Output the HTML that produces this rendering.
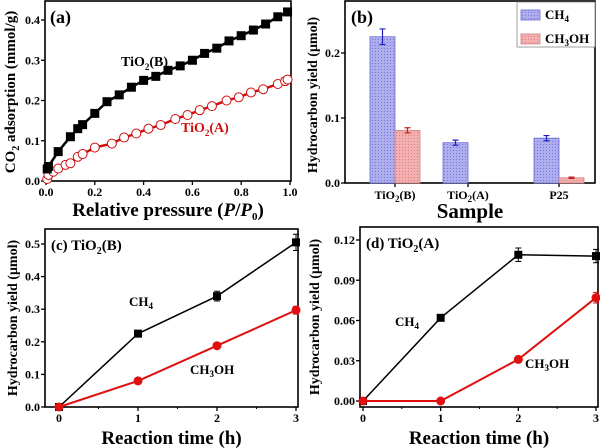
<!DOCTYPE html>
<html><head><meta charset="utf-8"><style>
html,body{margin:0;padding:0;background:#fff;}
svg{display:block;font-family:"Liberation Serif",serif;}
svg text{font-weight:bold;}
</style></head><body>
<svg id="fig" width="600" height="448" viewBox="0 0 600 448">
<defs>
<pattern id="hb" width="3" height="3" patternUnits="userSpaceOnUse"><rect width="3" height="3" fill="#aeaeee"/><rect width="1" height="1" fill="#7878d8"/></pattern>
<pattern id="hr" width="3" height="3" patternUnits="userSpaceOnUse"><rect width="3" height="3" fill="#f2b0b0"/><rect width="1" height="1" fill="#e07c7c"/></pattern>
</defs>
</svg>
<script>
// Panel (a)
const aPxB=[0.005,0.01,0.05,0.1,0.13,0.15,0.2,0.25,0.3,0.35,0.4,0.45,0.5,0.55,0.6,0.65,0.7,0.75,0.8,0.85,0.9,0.95,0.99];
const aYB=[0.03,0.036,0.073,0.11,0.13,0.14,0.168,0.197,0.214,0.233,0.25,0.26,0.275,0.286,0.30,0.317,0.33,0.348,0.361,0.375,0.39,0.408,0.42];
const aPxA=[0.005,0.01,0.03,0.05,0.08,0.1,0.13,0.15,0.2,0.27,0.32,0.37,0.42,0.47,0.53,0.58,0.63,0.68,0.74,0.79,0.84,0.89,0.95,0.98,0.99];
const aYA=[0.005,0.015,0.023,0.031,0.04,0.044,0.06,0.067,0.083,0.093,0.108,0.118,0.13,0.139,0.154,0.164,0.176,0.186,0.2,0.208,0.22,0.228,0.241,0.248,0.252];
const aXTicks=[0,0.2,0.4,0.6,0.8,1.0];
const aYTicks=[0,0.1,0.2,0.3,0.4];
// Panel (b)
const bCats=["TiO2(B)","TiO2(A)","P25"];
const bCH4=[0.225,0.062,0.069];
const bCH4err=[0.012,0.004,0.004];
const bMeOH=[0.081,0,0.008];
const bMeOHerr=[0.004,0,0.001];
const bYTicks=[0,0.1,0.2];
// Panel (c)
const cTime=[0,1,2,3];
const cCH4=[0,0.225,0.34,0.505];
const cCH4err=[0.005,0.01,0.015,0.025];
const cMeOH=[0,0.08,0.188,0.297];
const cMeOHerr=[0.003,0.005,0.006,0.012];
const cYTicks=[0,0.1,0.2,0.3,0.4,0.5];
// Panel (d)
const dTime=[0,1,2,3];
const dCH4=[0,0.062,0.109,0.108];
const dCH4err=[0.001,0.002,0.005,0.005];
const dMeOH=[0,0,0.031,0.077];
const dMeOHerr=[0.001,0.001,0.001,0.004];
const dYTicks=[0,0.03,0.06,0.09,0.12];

const svg=document.getElementById('fig');
const NS='http://www.w3.org/2000/svg';
function el(tag,attrs,parent){const e=document.createElementNS(NS,tag);for(const k in attrs)e.setAttribute(k,attrs[k]);(parent||svg).appendChild(e);return e;}
function txt(s,x,y,size,anchor,parent,fill){const t=el('text',{x:x,y:y,'font-size':size,'font-weight':'bold','text-anchor':anchor||'middle',fill:fill||'#000'},parent);t.innerHTML=s;return t;}
function lin(d0,d1,r0,r1){return v=>r0+(v-d0)/(d1-d0)*(r1-r0);}

function frame(g,L,T,R,B){el('rect',{x:L,y:T,width:R-L,height:B-T,fill:'none',stroke:'#000','stroke-width':1.6},g);}
function yAxis(g,ticks,sy,L,fmt){ticks.forEach(v=>{const y=sy(v);const t=el('line',{x1:L-4,y1:y,x2:L,y2:y,stroke:'#000','stroke-width':1.3},g);const l=txt(fmt(v),L-5,y+4,12,'end',g);});}
function xAxis(g,ticks,sx,B,fmt){ticks.forEach(v=>{const x=sx(v);const t=el('line',{x1:x,y1:B,x2:x,y2:B+4,stroke:'#000','stroke-width':1.3},g);const l=txt(fmt(v),x,B+15,12,'middle',g);});}

// ---- Panel a
(function(){
const g=el('g',{});
const L=45,T=1,R=291,B=181;
const sx=lin(0,1,46,290), sy=lin(0,0.4,181,20);
frame(g,L,T,R,B);
yAxis(g,aYTicks,sy,L,v=>v.toFixed(1));
xAxis(g,aXTicks,sx,B,v=>v.toFixed(1));
const pa=el('polyline',{points:aPxA.map((x,i)=>sx(x)+','+sy(aYA[i])).join(' '),fill:'none',stroke:'#d01010','stroke-width':2.5},g);

aPxA.forEach((x,i)=>{const c=el('circle',{cx:sx(x),cy:sy(aYA[i]),r:4.5,fill:'#fff',stroke:'#d01010','stroke-width':1},g);});
const pb=el('polyline',{points:aPxB.map((x,i)=>sx(x)+','+sy(aYB[i])).join(' '),fill:'none',stroke:'#000','stroke-width':2.5},g);

aPxB.forEach((x,i)=>{const r=el('rect',{x:sx(x)-4.5,y:sy(aYB[i])-4.5,width:9,height:9,fill:'#000'},g);});
let t=txt('(a)',50,23,18,'start',g);
t=txt('TiO<tspan font-size="9" dy="4">2</tspan><tspan dy="-4">(B)</tspan>',121,66,14,'start',g);
t=txt('TiO<tspan font-size="9" dy="4">2</tspan><tspan dy="-4">(A)</tspan>',181,132,14,'start',g,'#d01010');
t=txt('Relative pressure (<tspan font-style="italic">P</tspan>/<tspan font-style="italic">P</tspan><tspan font-size="11" dy="4">0</tspan><tspan dy="-4">)</tspan>',168,216,19,'middle',g);
t=txt('CO<tspan font-size="10" dy="4">2</tspan><tspan dy="-4"> adsorption (mmol/g)</tspan>',0,0,15,'middle',g);t.setAttribute('transform','translate(15,92) rotate(-90)');
})();

// ---- Panel b
(function(){
const g=el('g',{});
const L=345,T=1,R=595,B=183;
const sy=lin(0,0.1,183,118);
const centers=[395,468,559], bw=25;
frame(g,L,T,R,B);
yAxis(g,bYTicks,sy,L,v=>v.toFixed(1));
bCats.forEach((c,i)=>{const x=centers[i];
 const t=el('line',{x1:x,y1:B,x2:x,y2:B+4,stroke:'#000','stroke-width':1.3},g);
 const lab=c.startsWith('TiO2')?'TiO<tspan font-size="9" dy="3">2</tspan><tspan dy="-3">'+c.slice(4)+'</tspan>':c;
 const l=txt(lab,x,B+16,12,'middle',g);
 const b1=el('rect',{x:x-bw,y:sy(bCH4[i]),width:bw,height:sy(0)-sy(bCH4[i]),fill:'url(#hb)',stroke:'#6a6ad0','stroke-width':0.8},g);
 const e1=el('path',{d:`M${x-bw/2} ${sy(bCH4[i]+bCH4err[i])}V${sy(bCH4[i]-bCH4err[i])}M${x-bw/2-3} ${sy(bCH4[i]+bCH4err[i])}h6M${x-bw/2-3} ${sy(bCH4[i]-bCH4err[i])}h6`,stroke:'#2020c0','stroke-width':1.2,fill:'none'},g);
 if(bMeOH[i]>0){const b2=el('rect',{x:x,y:sy(bMeOH[i]),width:bw,height:sy(0)-sy(bMeOH[i]),fill:'url(#hr)',stroke:'#d08080','stroke-width':0.8},g);
 const e2=el('path',{d:`M${x+bw/2} ${sy(bMeOH[i]+bMeOHerr[i])}V${sy(bMeOH[i]-bMeOHerr[i])}M${x+bw/2-3} ${sy(bMeOH[i]+bMeOHerr[i])}h6M${x+bw/2-3} ${sy(bMeOH[i]-bMeOHerr[i])}h6`,stroke:'#c02020','stroke-width':1.2,fill:'none'},g);}
});
const lg=el('g',{},g);
el('rect',{x:517,y:2,width:78,height:45,fill:'#fff',stroke:'#888','stroke-width':0.8},lg);
let s=el('rect',{x:521,y:10,width:19,height:10,fill:'url(#hb)',stroke:'#6a6ad0','stroke-width':0.8},lg);
let t=txt('CH<tspan font-size="9" dy="3">4</tspan>',545,19,13,'start',lg);
s=el('rect',{x:521,y:34,width:19,height:10,fill:'url(#hr)',stroke:'#d08080','stroke-width':0.8},lg);
t=txt('CH<tspan font-size="9" dy="3">3</tspan><tspan dy="-3">OH</tspan>',545,43,13,'start',lg);
t=txt('(b)',351,23,18,'start',g);
t=txt('Sample',470,218,21,'middle',g);
t=txt('Hydrocarbon yield (μmol)',0,0,14,'middle',g);t.setAttribute('transform','translate(317,95) rotate(-90)');
})();

function linePanel(name,L,T,R,B,x0px,x3px,y0val,ytopval,y0px,ytoppx,yticks,fmt,ch4,ch4e,meoh,meohe,times,label,ch4pos,meohpos,ytitleX){
const g=el('g',{});
const sx=lin(0,3,x0px,x3px), sy=lin(y0val,ytopval,y0px,ytoppx);
frame(g,L,T,R,B);
yAxis(g,yticks,sy,L,fmt);
xAxis(g,[0,1,2,3],sx,B,v=>String(v));
[0.5,1.5,2.5].forEach(v=>{const m=el('line',{x1:sx(v),y1:B,x2:sx(v),y2:B+2,stroke:'#000'},g);});
function series(vals,errs,col,nm,sq){
 const p=el('polyline',{points:times.map((t,i)=>sx(t)+','+sy(vals[i])).join(' '),fill:'none',stroke:col,'stroke-width':sq?1.5:2},g);
 times.forEach((t,i)=>{const x=sx(t),y=sy(vals[i]),e1=sy(vals[i]+errs[i]),e2=sy(vals[i]-errs[i]);
  const e=el('path',{d:`M${x} ${e1}V${e2}M${x-3} ${e1}h6M${x-3} ${e2}h6`,stroke:col,'stroke-width':1,fill:'none'},g);
  const m=sq?el('rect',{x:x-4,y:y-4,width:8,height:8,fill:col},g):el('circle',{cx:x,cy:y,r:4.5,fill:col},g);});
}
series(ch4,ch4e,'#000','ch4',true);
series(meoh,meohe,'#e01010','ch3oh',false);
let t=txt(label,L+6,T+21,15,'start',g);
t=txt('CH<tspan font-size="9" dy="3">4</tspan>',ch4pos[0],ch4pos[1],13,'start',g);
t=txt('CH<tspan font-size="9" dy="3">3</tspan><tspan dy="-3">OH</tspan>',meohpos[0],meohpos[1],13,'start',g);
t=txt('Reaction time (h)',(L+R)/2,B+37,19,'middle',g);
t=txt('Hydrocarbon yield (μmol)',0,0,14,'middle',g);t.setAttribute('transform',`translate(${ytitleX},${(T+B)/2}) rotate(-90)`);
}
linePanel('panel-c',45,229,298,407,59,296,0,0.5,407,244,cYTicks,v=>v.toFixed(1),cCH4,cCH4err,cMeOH,cMeOHerr,cTime,'(c) TiO<tspan font-size="10" dy="4">2</tspan><tspan dy="-4">(B)</tspan>',[129,306],[190,374],17);
linePanel('panel-d',360,227,598,407,363,596,0,0.12,401,240,dYTicks,v=>v.toFixed(2),dCH4,dCH4err,dMeOH,dMeOHerr,dTime,'(d) TiO<tspan font-size="10" dy="4">2</tspan><tspan dy="-4">(A)</tspan>',[395,326],[525,368],319);
</script>
</body></html>
